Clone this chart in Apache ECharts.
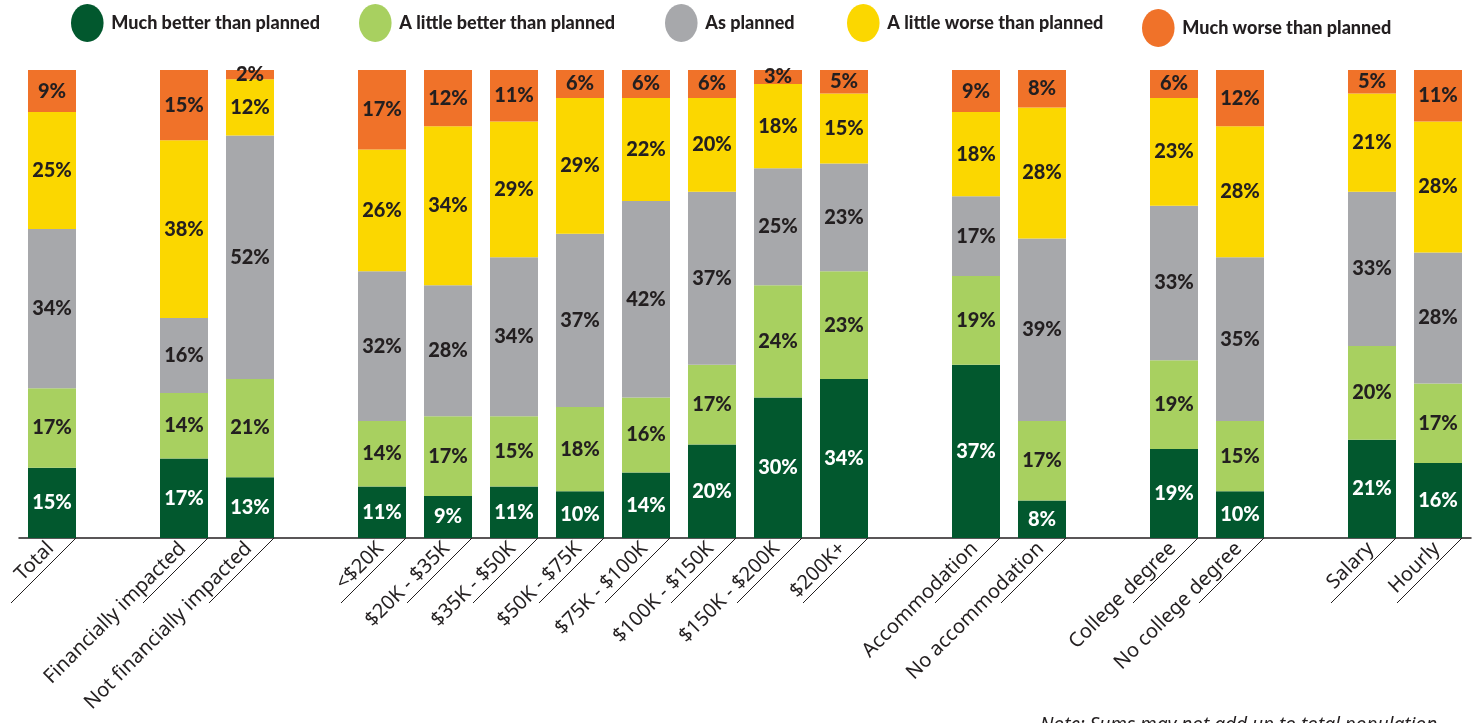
<!DOCTYPE html>
<html>
<head>
<meta charset="utf-8">
<style>
  html, body { margin: 0; padding: 0; background: #ffffff; }
  #chart { width: 1476px; height: 723px; }
</style>
<script src="https://cdn.jsdelivr.net/npm/echarts@6/dist/echarts.min.js"></script>
</head>
<body>
<div id="chart"></div>
<script>
// Groups are separated by empty slots on the category axis.
const categories = [
  'Total', '',
  'Financially impacted', 'Not financially impacted', '',
  '<$20K', '$20K - $35K', '$35K - $50K', '$50K - $75K', '$75K - $100K',
  '$100K - $150K', '$150K - $200K', '$200K+', '',
  'Accommodation', 'No accommodation', '',
  'College degree', 'No college degree', '',
  'Salary', 'Hourly'
];

const seriesNames = [
  'Much better than planned',
  'A little better than planned',
  'As planned',
  'A little worse than planned',
  'Much worse than planned'
];

const muchBetter   = [15, null, 17, 13, null, 11,  9, 11, 10, 14, 20, 30, 34, null, 37,  8, null, 19, 10, null, 21, 16];
const littleBetter = [17, null, 14, 21, null, 14, 17, 15, 18, 16, 17, 24, 23, null, 19, 17, null, 19, 15, null, 20, 17];
const asPlanned    = [34, null, 16, 52, null, 32, 28, 34, 37, 42, 37, 25, 23, null, 17, 39, null, 33, 35, null, 33, 28];
const littleWorse  = [25, null, 38, 12, null, 26, 34, 29, 29, 22, 20, 18, 15, null, 18, 28, null, 23, 28, null, 21, 28];
const muchWorse    = [ 9, null, 15,  2, null, 17, 12, 11,  6,  6,  6,  3,  5, null,  9,  8, null,  6, 12, null,  5, 11];

const seriesValues = [muchBetter, littleBetter, asPlanned, littleWorse, muchWorse];
const colors = ['#02582E', '#A8D060', '#A7A8AB', '#FBD700', '#F07229'];
const labelColors = ['#ffffff', '#231F20', '#231F20', '#231F20', '#231F20'];

const BAR_W = 48;
const INK = '#231F20';
const ellipse = 'path://M12,0 C18.6,0 24,6.3 24,14 C24,21.7 18.6,28 12,28 C5.4,28 0,21.7 0,14 C0,6.3 5.4,0 12,0 Z';

const barSeries = seriesNames.map((name, i) => ({
  name: name,
  type: 'bar',
  stack: 'share',
  barWidth: BAR_W,
  data: seriesValues[i],
  itemStyle: { color: colors[i] },
  label: {
    show: true,
    position: 'inside',
    formatter: p => (p.value == null ? '' : p.value + '%'),
    color: labelColors[i],
    fontFamily: 'Lato',
    fontWeight: 900,
    fontSize: 20
  },
  emphasis: { disabled: true }
}));

// Slanted rule drawn under each rotated category name.
const ruleData = categories
  .map((c, i) => (c ? [i] : null))
  .filter(d => d !== null);

const ruleSeries = {
  type: 'custom',
  silent: true,
  clip: false,
  data: ruleData,
  encode: { x: 0 },
  renderItem: (params, api) => {
    const p = api.coord([api.value(0), 0]);
    const x0 = p[0] + BAR_W / 2;
    return {
      type: 'line',
      shape: { x1: x0, y1: p[1], x2: x0 - 65, y2: p[1] + 65 },
      style: { stroke: INK, lineWidth: 1 }
    };
  },
  z: 1
};

const legendLayout = [
  { left: 66, top: -1 },
  { left: 354, top: -1 },
  { left: 660, top: -1 },
  { left: 842, top: -1 },
  { left: 1137, top: 4 }
];

const legends = seriesNames.map((name, i) => ({
  data: [name],
  left: legendLayout[i].left,
  top: legendLayout[i].top,
  icon: ellipse,
  itemWidth: 38,
  itemHeight: 38,
  itemGap: 0,
  selectedMode: false,
  textStyle: {
    fontFamily: 'Lato',
    fontWeight: 900,
    fontSize: 18,
    color: INK
  }
}));

const chart = echarts.init(document.getElementById('chart'), null, { renderer: 'canvas' });

chart.setOption({
  animation: false,
  backgroundColor: '#ffffff',
  legend: legends,
  grid: { left: 19, right: 5, top: 70, bottom: 185, containLabel: false },
  xAxis: {
    type: 'category',
    data: categories,
    boundaryGap: true,
    axisLine: { show: true, lineStyle: { color: INK, width: 1.5 } },
    axisTick: { show: false },
    axisLabel: {
      interval: 0,
      rotate: 45,
      margin: 6,
      padding: [0, 2, 0, 0],
      fontFamily: 'Noto Sans',
      fontSize: 20,
      color: INK
    }
  },
  yAxis: {
    type: 'value',
    min: 0,
    max: 100,
    show: false
  },
  series: [...barSeries, ruleSeries],
  graphic: [{
    type: 'text',
    left: 1040,
    top: 716,
    style: {
      text: 'Note: Sums may not add up to total population',
      fontFamily: 'Noto Sans',
      fontStyle: 'italic',
      fontSize: 19,
      fill: INK
    }
  }]
});
</script>
</body>
</html>
